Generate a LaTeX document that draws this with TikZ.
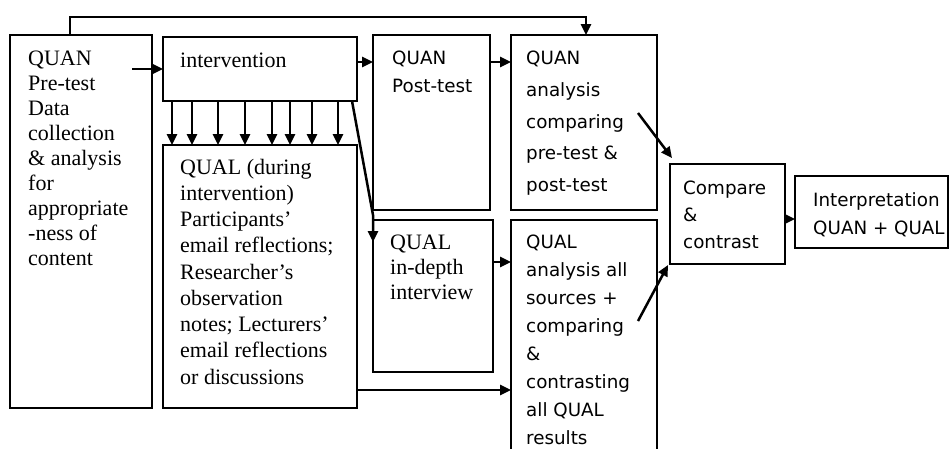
\documentclass[tikz,border=0pt]{standalone}
\usepackage{fontspec}
\setmainfont{Liberation Serif}
\newfontfamily\sansf{DejaVu Sans}
\usetikzlibrary{arrows.meta,calc}
\begin{document}
\begin{tikzpicture}[x=1pt,y=-1pt,
 box/.style={draw,line width=1.6pt,anchor=north west,inner sep=0pt,outer sep=0pt},
 arr/.style={line width=2.5pt,-{Triangle[length=11pt,width=10pt]}},
 stxt/.style={anchor=north west,inner sep=0pt,align=left,font=\fontsize{22}{#1}\selectfont},
 stxt/.default=25,
 ssan/.style={anchor=north west,inner sep=0pt,align=left,font=\sansf\fontsize{18.3}{#1}\selectfont},
 ssan/.default=28]
\useasboundingbox (0,0) rectangle (950,448);
% boxes
\node[box,line width=2.4pt,minimum width=142pt,minimum height=373pt] (A) at (10,35) {};
\node[box,minimum width=194pt,minimum height=64pt] (intv) at (163,37) {};
\node[box,minimum width=194pt,minimum height=263pt] (QD) at (163,145) {};
\node[box,minimum width=117pt,minimum height=175pt] (post) at (373,35) {};
\node[box,minimum width=146pt,minimum height=175pt] (QA) at (511,35) {};
\node[box,minimum width=120pt,minimum height=152pt] (QI) at (373,220) {};
\node[box,minimum width=146pt,minimum height=236pt] (QL) at (511,220) {};
\node[box,minimum width=115pt,minimum height=100pt] (CC) at (670,164) {};
\node[box,minimum width=153pt,minimum height=72pt] (IN) at (795,176) {};
% texts
\node[stxt] (tA) at (28,47.5) {\strut QUAN\\Pre-test\\Data\\collection\\\& analysis\\for\\appropriate\\-ness of\\content};
\node[stxt] (tintv) at (180,49.5) {\strut intervention};
\node[stxt=26.25] (tQD) at (180,155.6) {\strut QUAL (during\\intervention)\\Participants’\\email reflections;\\Researcher’s\\observation\\notes; Lecturers’\\email reflections\\or discussions};
\node[stxt] (tQI) at (390,231.5) {\strut QUAL\\in-depth\\interview};
\node[ssan] (tpost) at (392,44.9) {\strut QUAN\\Post-test};
\node[ssan=31.7] (tQA) at (526,42.3) {\strut QUAN\\analysis\\comparing\\pre-test \&\\post-test};
\node[ssan] (tQL) at (526,228.9) {\strut QUAL\\analysis all\\sources +\\comparing\\\&\\contrasting\\all QUAL\\results};
\node[ssan=27] (tCC) at (683,175.1) {\strut Compare\\\&\\contrast};
\node[ssan] (tIN) at (813,186.9) {\strut Interpretation\\QUAN + QUAL};
% connectors
\draw[arr] ([xshift=60pt]A.north west) -- ++(0,-18) -| ([xshift=2pt]QA.north);
\coordinate (p0) at ([xshift=-20pt]A.east);
\draw[arr] (p0 |- intv.west) -- (intv.west);
\coordinate (p1) at ([yshift=7pt]intv.east);
\draw[arr] (p1) -- (p1 -| post.west);
\draw[arr] (post.east |- p1) -- (QA.west |- p1);
\foreach \x in {172,192,218,245,272,290,312,338}
  \draw[arr] (intv.south -| \x,0) -- (QD.north -| \x,0);
\draw[arr] ([xshift=-5pt]intv.south east) -- ([yshift=5pt]QI.north west) -- ([yshift=-22pt]QI.north west);
\coordinate (p3) at ([yshift=34pt]QI.east);
\draw[arr] (p3) -- (p3 -| QL.west);
\coordinate (p4) at ([yshift=18pt]QD.south east);
\draw[arr] (p4) -- (p4 -| QL.west);
\draw[arr] ([shift={(-19pt,9.5pt)}]QA.east) -- ([shift={(2pt,6pt)}]CC.north west);
\draw[arr] ([shift={(-19pt,17pt)}]QL.east) -- ([shift={(-2pt,-1pt)}]CC.south west);
\coordinate (p5) at ([yshift=-5pt]CC.east);
\draw[arr] (p5) -- (p5 -| IN.west);
\end{tikzpicture}
\end{document}
